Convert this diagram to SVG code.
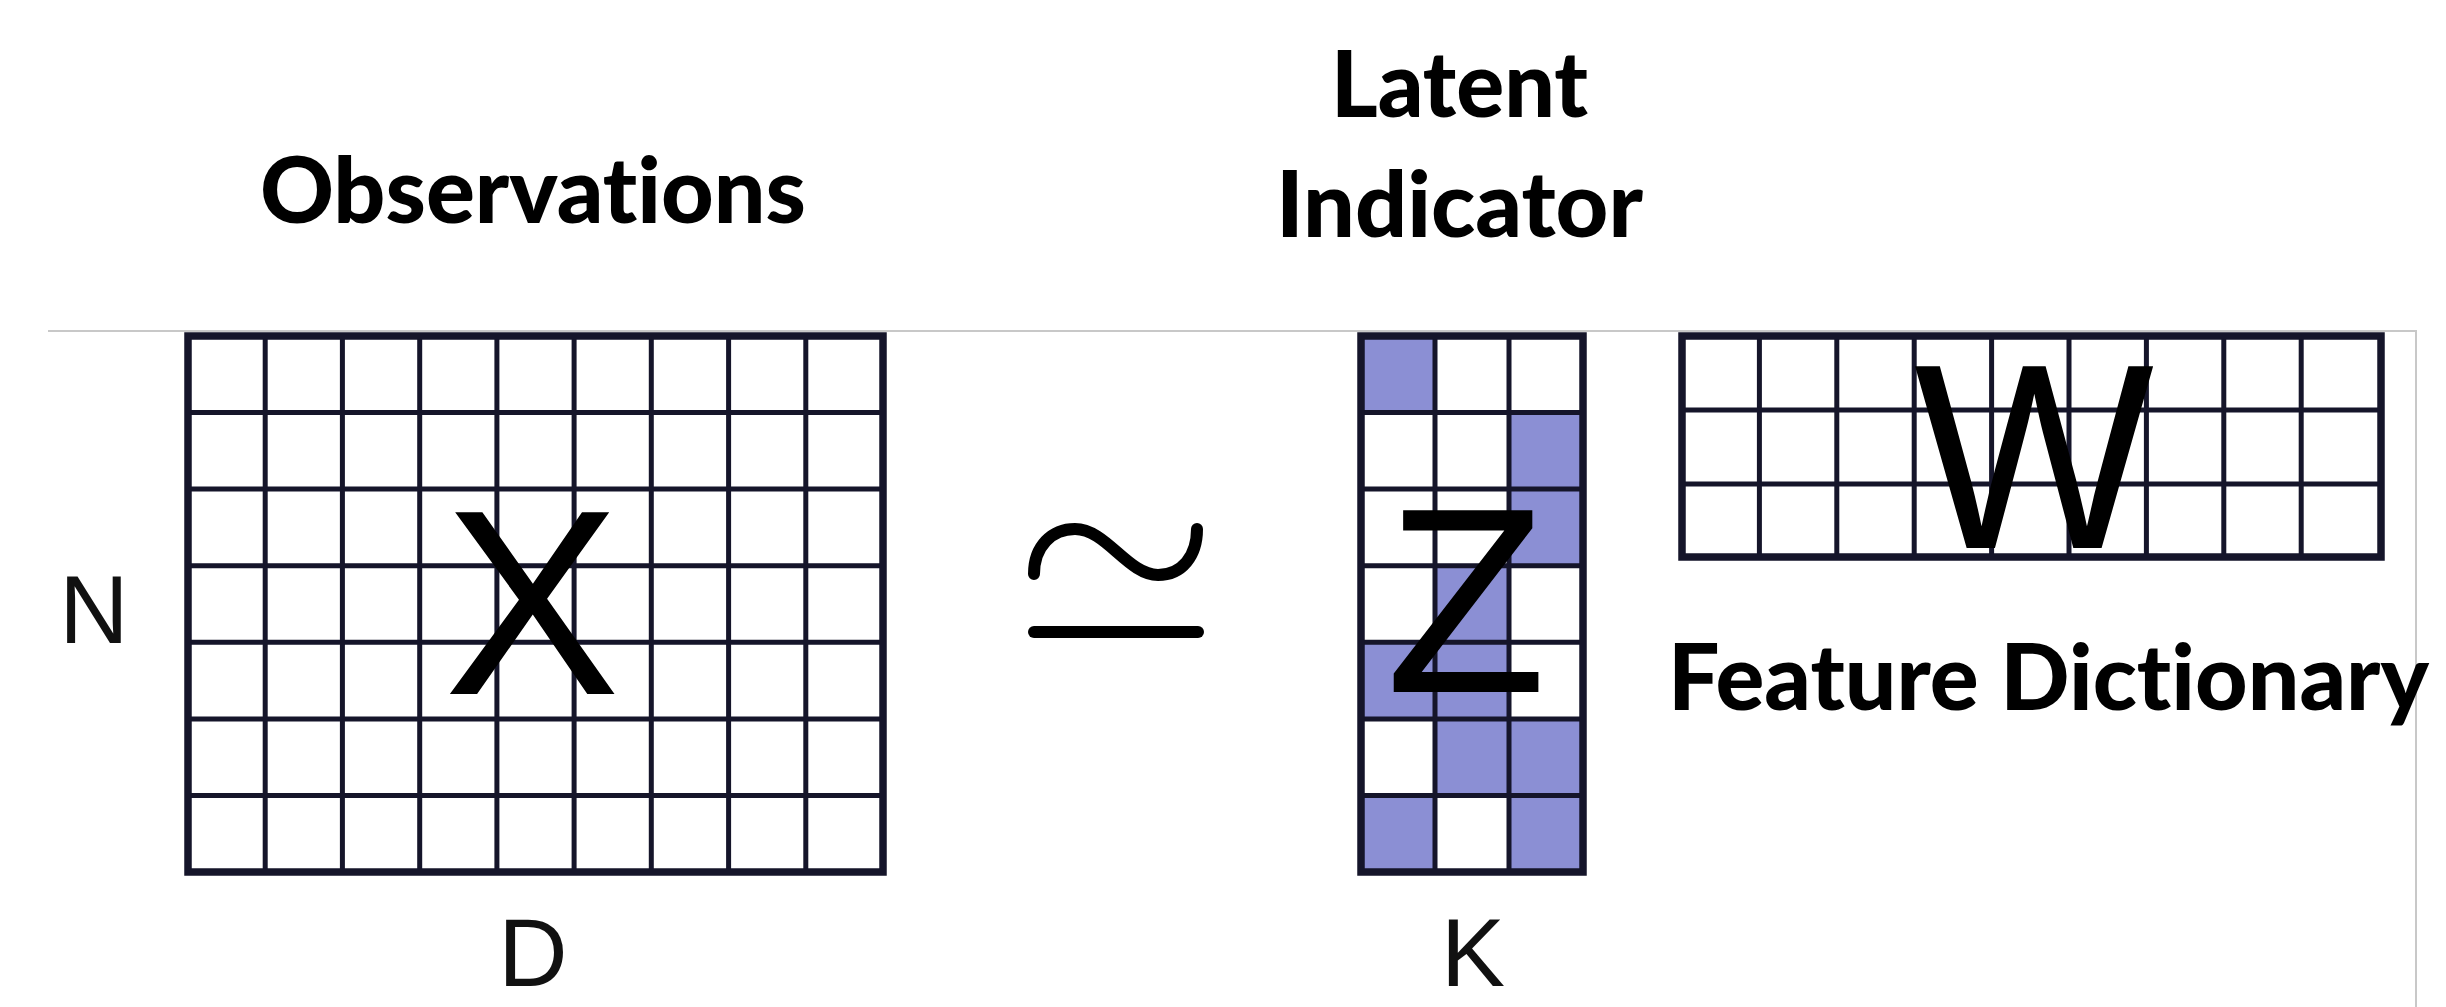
<svg xmlns="http://www.w3.org/2000/svg" width="2446" height="1007" viewBox="0 0 2446 1007">
  <style>
    .title { font-family: Lato, "Open Sans", "Liberation Sans", sans-serif; font-weight: 900; font-size: 91px; fill: #000; font-variant-ligatures: none; }
    .big { font-family: "Liberation Sans", Arial, sans-serif; font-size: 264px; fill: #000; text-anchor: middle; }
    .dim { font-family: "Liberation Sans", Arial, sans-serif; font-size: 96px; fill: #111; text-anchor: middle; }
    .outer { fill: none; stroke: #15152a; stroke-width: 7.5; }
    .inner { stroke: #15152a; stroke-width: 5; fill: none; }
    .on { fill: #8b8fd4; }
    .frame { stroke: #c8c8c8; stroke-width: 2; fill: none; }
  </style>
  <rect width="2446" height="1007" fill="#ffffff"/>

  <g id="frame">
    <path class="frame" d="M48,331 H2416 V1007"/>
  </g>

  <g id="titles">
    <text class="title" x="260" y="223" textLength="546" lengthAdjust="spacingAndGlyphs">Observations</text>
    <text class="title" x="1331" y="117" textLength="257" lengthAdjust="spacingAndGlyphs">Latent</text>
    <text class="title" x="1276" y="237" textLength="367" lengthAdjust="spacingAndGlyphs">Indicator</text>
  </g>

  <g id="matrix-x">
    <path class="inner" d="M265.2,336V872M342.4,336V872M419.7,336V872M496.9,336V872M574.1,336V872M651.3,336V872M728.6,336V872M805.8,336V872
      M188,412.6H883M188,489.1H883M188,565.7H883M188,642.3H883M188,718.9H883M188,795.4H883"/>
    <rect class="outer" x="188" y="336" width="695" height="536"/>
    <text class="big" x="532" y="694">X</text>
    <text class="dim" x="94" y="643">N</text>
    <text class="dim" x="533" y="986">D</text>
  </g>

  <g id="approx">
    <path d="M1034,574 C1034,546 1052,529 1075,529 C1106,529 1128,575 1158,575 C1182,575 1197,556 1197,529" fill="none" stroke="#000" stroke-width="12" stroke-linecap="round"/>
    <line x1="1034" y1="632" x2="1198" y2="632" stroke="#000" stroke-width="12" stroke-linecap="round"/>
  </g>

  <g id="matrix-z">
    <rect class="on" x="1361" y="336" width="74" height="76.6"/>
    <rect class="on" x="1509" y="412.6" width="74" height="76.6"/>
    <rect class="on" x="1509" y="489.1" width="74" height="76.6"/>
    <rect class="on" x="1435" y="565.7" width="74" height="76.6"/>
    <rect class="on" x="1361" y="642.3" width="148" height="76.6"/>
    <rect class="on" x="1435" y="718.9" width="148" height="76.6"/>
    <rect class="on" x="1361" y="795.4" width="74" height="76.6"/>
    <rect class="on" x="1509" y="795.4" width="74" height="76.6"/>
    <path class="inner" d="M1435,336V872M1509,336V872
      M1361,412.6H1583M1361,489.1H1583M1361,565.7H1583M1361,642.3H1583M1361,718.9H1583M1361,795.4H1583"/>
    <rect class="outer" x="1361" y="336" width="222" height="536"/>
    <text class="big" x="1466" y="692">Z</text>
    <text class="dim" x="1473" y="986">K</text>
  </g>

  <g id="matrix-w">
    <path class="inner" d="M1759.4,336V557M1836.8,336V557M1914.2,336V557M1991.6,336V557M2069,336V557M2146.4,336V557M2223.8,336V557M2301.2,336V557
      M1682,410H2381M1682,484H2381"/>
    <rect class="outer" x="1682" y="336" width="699" height="221"/>
    <text class="big" x="2034" y="548" textLength="240" lengthAdjust="spacingAndGlyphs">W</text>
    <text class="title" x="1668" y="710" textLength="761" lengthAdjust="spacingAndGlyphs">Feature Dictionary</text>
  </g>
</svg>
